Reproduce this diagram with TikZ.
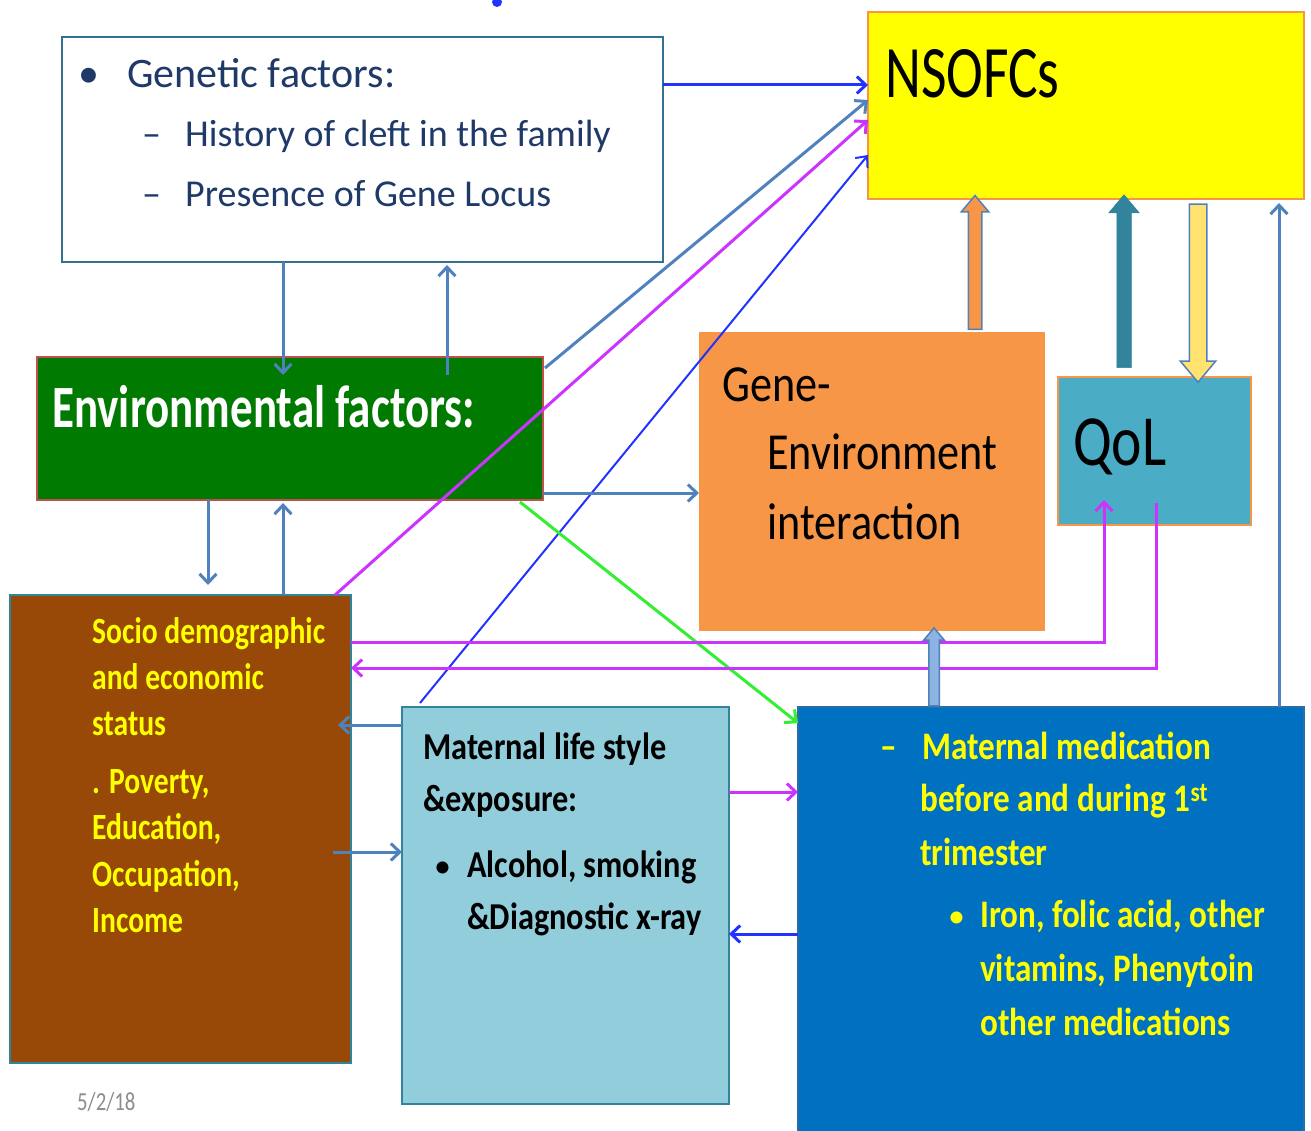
\documentclass[tikz,border=0pt]{standalone}
\usepackage{fontspec}
\setmainfont{Carlito}
\newfontfamily\fB{Carlito}[FakeStretch=0.85]
\newfontfamily\fC{Carlito}[FakeStretch=0.75]
\newfontfamily\fD{Carlito}[FakeStretch=0.8]
\usetikzlibrary{arrows.meta,shapes.arrows,calc}
\newcommand\myfs[2]{\fontsize{#1}{#2}\selectfont}
\definecolor{cSteel}{HTML}{4F81BD}
\definecolor{cBlue}{HTML}{2233FF}
\definecolor{cPink}{HTML}{CC33FF}
\definecolor{cGreen}{HTML}{33EE33}
\definecolor{cNavy}{HTML}{1F3A68}
\definecolor{genB}{HTML}{35718E}
\definecolor{cOrange}{HTML}{F79646}
\definecolor{cYel}{HTML}{FFFF00}
\definecolor{cEnv}{HTML}{007A00}
\definecolor{cRed}{HTML}{C0504D}
\definecolor{cQol}{HTML}{4BACC6}
\definecolor{cBrown}{HTML}{984807}
\definecolor{cTeal}{HTML}{31849B}
\definecolor{cMat}{HTML}{92CDDC}
\definecolor{cMed}{HTML}{0070C0}
\definecolor{cMedB}{HTML}{2A6DA8}
\definecolor{cLtBlue}{HTML}{8DB3E2}
\definecolor{cPaleY}{HTML}{FFE36E}
\tikzset{
  box/.style={inner sep=0pt, outer sep=0pt, line width=2.5pt, anchor=north west},
  t/.style={inner sep=0pt, anchor=base west},
  thin/.style={line width=3pt, -{Straight Barb[length=9pt,width=17pt]}},
  thinner/.style={line width=2pt, -{Straight Barb[length=9pt,width=16pt]}},
  blockarrow/.style={single arrow, inner sep=0pt, minimum width=0pt, single arrow tip angle=80},
}
\begin{document}
\begin{tikzpicture}[x=1pt,y=-1pt]
\useasboundingbox (0,0) rectangle (1311,1131);
% boxes
\node[box, draw=genB, fill=white, minimum width=601pt, minimum height=225pt] (gen) at (62,37) {};
\node[box, draw=cOrange, fill=cYel, minimum width=436pt, minimum height=187pt] (nso) at (868,12) {};
\node[box, draw=cRed, fill=cEnv, minimum width=506pt, minimum height=143pt] (env) at (37,357) {};
\node[box, draw=none, fill=cOrange, minimum width=346pt, minimum height=299pt] (ge) at (699,332) {};
\node[box, draw=cOrange, fill=cQol, minimum width=193pt, minimum height=148pt] (qol) at (1058,377) {};
\node[box, draw=cTeal, fill=cBrown, minimum width=341pt, minimum height=468pt] (soc) at (10,595) {};
\node[box, draw=cTeal, fill=cMat, minimum width=327pt, minimum height=397pt] (mat) at (402,707) {};
\node[box, draw=cMedB, fill=cMed, minimum width=506pt, minimum height=440pt] (med) at (798,707) {};
\node[circle, fill=cBlue, minimum size=10pt, inner sep=0pt] (dot) at (497,2) {};

% texts: genetic
\begin{scope}[every node/.style={t, text=cNavy}]
\node[font=\myfs{42}{50}] (g0) at (78,88) {•};
\node[font=\myfs{42}{50}] (g1) at (127,88) {Genetic factors:};
\node[font=\myfs{38}{46}] (g2a) at (142,147) {–};
\node[font=\myfs{38}{46}] (g2) at (185,147) {History of cleft in the family};
\node[font=\myfs{38}{46}] (g3a) at (142,207) {–};
\node[font=\myfs{38}{46}] (g3) at (185,207) {Presence of Gene Locus};
\end{scope}
\node[t, font=\fC\myfs{74}{80}] (n1) at (885,98) {NSOFCs};
\node[t, font=\fC\bfseries\myfs{60}{66}, text=white] (e1) at (52,427) {Environmental factors:};
\begin{scope}[every node/.style={t, font=\fB\myfs{52}{60}}]
\node (ge1) at (722,401) {Gene-};
\node (ge2) at (767,469) {Environment};
\node (ge3) at (767,539) {interaction};
\end{scope}
\node[t, font=\fD\myfs{72}{80}] (q1) at (1073,465) {QoL};
\begin{scope}[every node/.style={t, font=\fD\bfseries\myfs{37}{44}, text=cYel}]
\node (s1) at (92,643) {Socio demographic};
\node (s2) at (92,689) {and economic};
\node (s3) at (92,735) {status};
\node (s4) at (92,793) {. Poverty,};
\node (s5) at (92,839) {Education,};
\node (s6) at (92,886) {Occupation,};
\node (s7) at (92,932) {Income};
\end{scope}
\begin{scope}[every node/.style={t, font=\fB\bfseries\myfs{38}{46}}]
\node (m1) at (423,759) {Maternal life style};
\node (m2) at (423,811) {\&exposure:};
\node[font=\myfs{34}{40}] (m3a) at (434,877) {•};
\node (m3) at (467,877) {Alcohol, smoking};
\node (m4) at (467,929) {\&Diagnostic x-ray};
\end{scope}
\begin{scope}[every node/.style={t, font=\fB\bfseries\myfs{39}{46}, text=cYel}]
\node (d0) at (880,759) {–};
\node (d1) at (922,759) {Maternal medication};
\node (d2) at (920,811) {before and during 1\textsuperscript{st}};
\node (d3) at (920,865) {trimester};
\node[font=\myfs{34}{40}] (d4a) at (948,927) {•};
\node (d4) at (980,927) {Iron, folic acid, other};
\node (d5) at (980,981) {vitamins, Phenytoin};
\node (d6) at (980,1035) {other medications};
\end{scope}
\node[t, font=\fD\myfs{26}{30}, text=black!45] (date) at (77,1110) {5/2/18};

% thin connectors
\draw[thin, cBlue] (gen.east |- 0,85) -- (nso.west |- 0,85);
\draw[thin, cSteel] ($(env.north east)+(2,11)$) -- (nso.west |- 0,100);
\draw[thin, cPink] ($(soc.north east)+(-16,0)$) -- (nso.west |- 0,120);
\draw[thinner, cBlue] ($(mat.north west)+(18,-4)$) -- (nso.west |- 0,155);
\draw[thin, cSteel] (gen.south -| 283,0) -- ($(env.north -| 283,0)+(0,18)$);
\draw[thin, cSteel] ($(env.north -| 447,0)+(0,18)$) -- ($(gen.south -| 447,0)+(0,3)$);
\draw[thin, cSteel] (env.south -| 208,0) -- ($(soc.north -| 208,0)+(0,-10)$);
\draw[thin, cSteel] (soc.north -| 283,0) -- ($(env.south -| 283,0)+(0,3)$);
\draw[thin, cSteel] (env.east |- 0,493) -- (ge.west |- 0,493);
\draw[thin, cGreen] ($(env.south east)+(-23,2)$) -- ($(med.north west)+(0,16)$);
\draw[thin, cPink] (soc.east |- 0,642) -| ($(qol.south -| 1104,0)+(0,-25)$);
\draw[thin, cPink] ($(qol.south -| 1156,0)+(0,-22)$) |- (soc.east |- 0,668);
\draw[thin, cSteel] (mat.west |- 0,725) -- ($(soc.east |- 0,725)+(-13,0)$);
\draw[thin, cSteel] ($(soc.east |- 0,852)+(-18,0)$) -- (mat.west |- 0,852);
\draw[thin, cPink] (mat.east |- 0,792) -- (med.west |- 0,792);
\draw[thin, cBlue] (med.west |- 0,934) -- (mat.east |- 0,934);
\draw[thin, cSteel] (med.north -| 1279,0) -- ($(nso.south -| 1279,0)+(0,4)$);

% block arrows
\node[blockarrow, draw=cSteel, fill=cOrange, line width=1.5pt, rotate=90,
      minimum height=134pt, inner ysep=6pt, single arrow head extend=7pt] (ba1)
      at ($(ge.north -| 975,0)!0.5!(nso.south -| 975,0)+(0,1)$) {};
\node[blockarrow, draw=cTeal, fill=cTeal, line width=0.5pt, rotate=90,
      minimum height=173pt, inner ysep=7pt, single arrow head extend=8pt] (ba2)
      at ($(nso.south -| 1124,0)+(0,86.5)$) {};
\node[blockarrow, draw=cSteel, fill=cPaleY, line width=1.5pt, rotate=-90,
      minimum height=178pt, inner ysep=8pt, single arrow head extend=9pt] (ba3)
      at ($(nso.south -| 1198,0)!0.5!(qol.north -| 1198,0)$) {};
\node[blockarrow, draw=cSteel, fill=cLtBlue, line width=1.5pt, rotate=90,
      minimum height=78pt, inner ysep=4.5pt, single arrow head extend=5pt] (ba4)
      at ($(med.north -| 934,0)!0.5!(ge.south -| 934,0)+(0,1)$) {};
\end{tikzpicture}
\end{document}
